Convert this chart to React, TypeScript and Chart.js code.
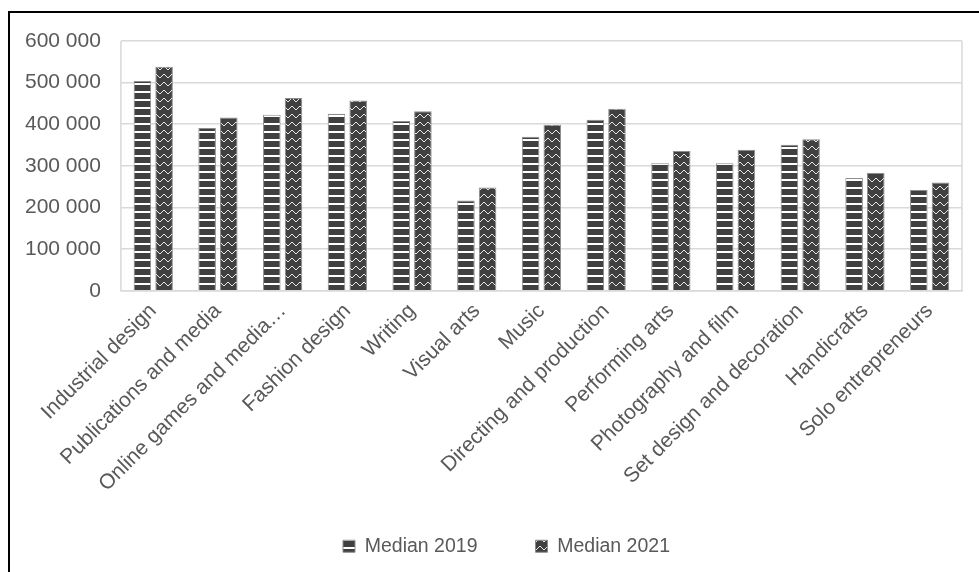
import { useEffect, useRef } from "react";
import { Chart, registerables } from "chart.js";

Chart.register(...registerables);

const categories = [
  "Industrial design",
  "Publications and media",
  "Online games and media…",
  "Fashion design",
  "Writing",
  "Visual arts",
  "Music",
  "Directing and production",
  "Performing arts",
  "Photography and film",
  "Set design and decoration",
  "Handicrafts",
  "Solo entrepreneurs",
];
const median2019 = [504000, 391000, 423000, 425000, 408000, 217000, 370000, 411000, 306000, 306000, 351000, 271000, 242000];
const median2021 = [538000, 416000, 463000, 457000, 431000, 248000, 399000, 437000, 336000, 339000, 364000, 283000, 260000];
const seriesLabels = ["Median 2019", "Median 2021"];
const yMin = 0;
const yMax = 600000;
const yStep = 100000;

const FONT = "'Liberation Sans', Arial, sans-serif";
const TEXT = "#595959";
const GRID = "#d9d9d9";

function stripePattern(): CanvasPattern | string {
  const c = document.createElement("canvas");
  c.width = 8;
  c.height = 8;
  const ctx = c.getContext("2d");
  if (!ctx) return "#404040";
  ctx.fillStyle = "#404040";
  ctx.fillRect(0, 0, 8, 8);
  ctx.fillStyle = "#ffffff";
  ctx.fillRect(0, 3, 8, 2);
  return ctx.createPattern(c, "repeat") || "#404040";
}

function zigzagPattern(): CanvasPattern | string {
  const c = document.createElement("canvas");
  c.width = 8;
  c.height = 8;
  const ctx = c.getContext("2d");
  if (!ctx) return "#404040";
  ctx.fillStyle = "#404040";
  ctx.fillRect(0, 0, 8, 8);
  ctx.fillStyle = "#e6e6e6";
  const px: [number, number][] = [
    [3, 2], [4, 2],
    [2, 3], [5, 3],
    [1, 4], [6, 4],
    [0, 5], [7, 5],
  ];
  for (const [x, y] of px) ctx.fillRect(x, y, 1, 1);
  return ctx.createPattern(c, "repeat") || "#404040";
}

const plotBorder = {
  id: "plotBorder",
  afterLayout(chart: any) {
    const lg = chart.legend;
    if (lg) {
      lg.left += 23;
      lg.right += 23;
    }
  },
  afterDraw(chart: any) {
    const { ctx, chartArea } = chart;
    ctx.save();
    ctx.strokeStyle = GRID;
    ctx.lineWidth = 1.5;
    ctx.beginPath();
    ctx.moveTo(chartArea.left, chartArea.top);
    ctx.lineTo(chartArea.left, chartArea.bottom);
    ctx.moveTo(chartArea.right, chartArea.top);
    ctx.lineTo(chartArea.right, chartArea.bottom);
    ctx.stroke();
    ctx.restore();
  },
};

export default function App() {
  const ref = useRef<HTMLCanvasElement | null>(null);

  useEffect(() => {
    if (!ref.current) return;
    const chart = new Chart(ref.current, {
      type: "bar",
      data: {
        labels: categories,
        datasets: [
          {
            label: seriesLabels[0],
            data: median2019,
            backgroundColor: stripePattern() as any,
            borderColor: "#8c8c8c",
            borderWidth: 1,
            barPercentage: 0.81,
            categoryPercentage: 0.67,
          },
          {
            label: seriesLabels[1],
            data: median2021,
            backgroundColor: zigzagPattern() as any,
            borderColor: "#8c8c8c",
            borderWidth: 1,
            barPercentage: 0.81,
            categoryPercentage: 0.67,
          },
        ],
      },
      options: {
        responsive: false,
        animation: false,
        devicePixelRatio: 1,
        layout: { padding: { left: 5, right: 17, top: 41, bottom: 6 } },
        plugins: {
          tooltip: { enabled: false },
          legend: {
            position: "bottom",
            labels: {
              boxWidth: 12,
              boxHeight: 12,
              padding: 58,
              color: TEXT,
              font: { family: FONT, size: 19.5 },
            },
          },
        },
        scales: {
          x: {
            grid: { display: false, drawTicks: false },
            border: { display: true, color: GRID, width: 1.5 },
            ticks: {
              minRotation: 45,
              maxRotation: 45,
              autoSkip: false,
              padding: 8,
              color: TEXT,
              font: { family: FONT, size: 21 },
            },
            afterFit: (scale: any) => {
              scale.height -= 26;
              scale._computeLabelArea = () => undefined;
            },
          },
          y: {
            min: yMin,
            max: yMax,
            grid: { color: GRID, lineWidth: 1.5, drawTicks: false },
            border: { display: false },
            ticks: {
              stepSize: yStep,
              padding: 20,
              color: TEXT,
              font: { family: FONT, size: 21 },
              callback: (v: any) => Number(v).toLocaleString("en-US").replace(/,/g, " "),
            },
          },
        },
      },
      plugins: [plotBorder],
    });
    return () => chart.destroy();
  }, []);

  return (
    <div style={{ position: "fixed", inset: 0, overflow: "hidden", background: "#fff" }}>
      <canvas ref={ref} width={979} height={572} style={{ position: "absolute", left: 0, top: 0, width: 979, height: 572 }} />
      <div
        style={{
          position: "absolute",
          left: 8,
          top: 11,
          width: 2000,
          height: 2000,
          borderLeft: "2px solid #000",
          borderTop: "2px solid #000",
          pointerEvents: "none",
        }}
      />
    </div>
  );
}
